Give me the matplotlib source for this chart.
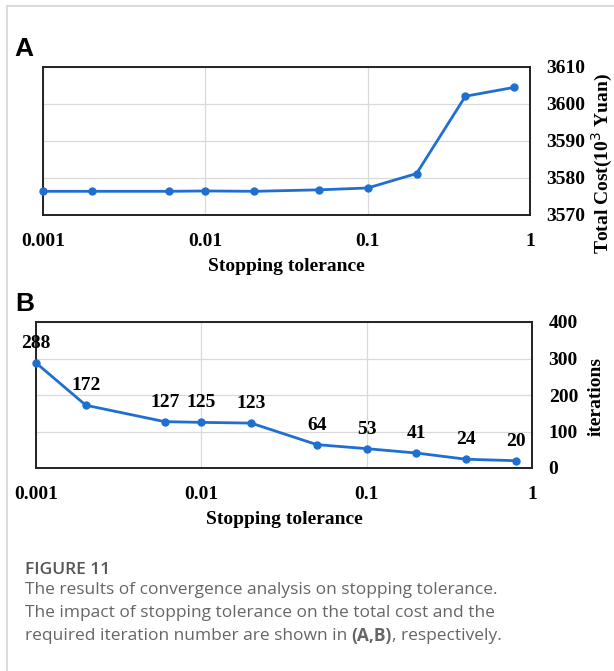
import numpy as np
import matplotlib.pyplot as plt
from matplotlib.lines import Line2D
from matplotlib.ticker import FixedLocator, FixedFormatter

# data
tol = [0.001, 0.002, 0.006, 0.01, 0.02, 0.05, 0.1, 0.2, 0.4, 0.8]
cost = [3576.4, 3576.4, 3576.4, 3576.5, 3576.4, 3576.8, 3577.3, 3581.2, 3602.1, 3604.5]
iters = [288, 172, 127, 125, 123, 64, 53, 41, 24, 20]

x_ticks = [0.001, 0.01, 0.1, 1]
x_labels = ["0.001", "0.01", "0.1", "1"]
cost_ticks = [3570, 3580, 3590, 3600, 3610]
iter_ticks = [0, 100, 200, 300, 400]

W, H = 614, 671
blue = "#1f6fd0"
serif = "Liberation Serif"

fig = plt.figure(figsize=(W / 100, H / 100), dpi=100)


def px_axes(left, top, right, bottom):
    return fig.add_axes([left / W, 1 - bottom / H, (right - left) / W, (bottom - top) / H])


def style(ax, yticks):
    ax.set_xscale("log")
    ax.set_xlim(0.001, 1)
    ax.xaxis.set_major_locator(FixedLocator(x_ticks))
    ax.xaxis.set_major_formatter(FixedFormatter(x_labels))
    ax.xaxis.set_minor_locator(FixedLocator([]))
    ax.set_ylim(yticks[0], yticks[-1])
    ax.set_yticks(yticks)
    ax.yaxis.tick_right()
    ax.yaxis.set_label_position("right")
    ax.grid(True, color="#d9d9d9", lw=0.9)
    ax.set_axisbelow(True)
    ax.tick_params(axis="x", length=0, pad=13)
    ax.tick_params(axis="y", length=0, pad=12)
    for lab in ax.get_xticklabels() + ax.get_yticklabels():
        lab.set_fontfamily(serif)
        lab.set_fontweight("bold")
        lab.set_fontsize(14)
    for sp in ax.spines.values():
        sp.set_linewidth(1.4)
        sp.set_color("#222222")
    ax.set_xlabel("Stopping tolerance", fontfamily=serif, fontweight="bold",
                  fontsize=14, labelpad=6)


# panel A
axA = px_axes(43, 67, 530, 215)
axA.plot(tol, cost, color=blue, lw=2, marker="o", ms=5, clip_on=False, zorder=3)
style(axA, cost_ticks)
axA.set_ylabel("Total Cost(10$^3$ Yuan)", fontfamily=serif, fontweight="bold",
               fontsize=14, ha="center", va="center")
axA.yaxis.set_label_coords(1.148, 0.35)

# panel B
axB = px_axes(36, 322, 532, 468)
axB.plot(tol, iters, color=blue, lw=2, marker="o", ms=5, clip_on=False, zorder=3)
style(axB, iter_ticks)
axB.set_ylabel("iterations", fontfamily=serif, fontweight="bold", fontsize=14,
               ha="center", va="center")
axB.yaxis.set_label_coords(1.129, 0.49)
for t, v in zip(tol, iters):
    axB.annotate(str(v), (t, v), xytext=(0, 14), textcoords="offset points",
                 ha="center", va="center", fontfamily=serif, fontweight="bold",
                 fontsize=14, annotation_clip=False)

# panel letters
fig.text(14 / W, 1 - 49 / H, "A", fontfamily="Liberation Sans", fontweight="bold",
         fontsize=19, va="center", ha="left")
fig.text(15 / W, 1 - 304 / H, "B", fontfamily="Liberation Sans", fontweight="bold",
         fontsize=19, va="center", ha="left")

# light frame on left and top
fig.add_artist(Line2D([7 / W, 7 / W], [0, 1 - 6 / H], color="#d4d4d4", lw=1.2))
fig.add_artist(Line2D([7 / W, 1], [1 - 6 / H, 1 - 6 / H], color="#d4d4d4", lw=1.2))

# caption
cap_color = "#666666"
cap_font = "Open Sans"
cap_size = 12.5
fig.text(25 / W, 1 - 570 / H, "FIGURE 11", fontfamily=cap_font, fontweight="semibold",
         fontsize=cap_size, color="#555555", va="center")
lines = ["The results of convergence analysis on stopping tolerance.",
         "The impact of stopping tolerance on the total cost and the"]
for i, s in enumerate(lines):
    fig.text(25 / W, 1 - (590 + 23 * i) / H, s, fontfamily=cap_font, fontsize=cap_size,
             color=cap_color, va="center")

y3 = 1 - 636 / H
t1 = fig.text(25 / W, y3, "required iteration number are shown in ", fontfamily=cap_font,
              fontsize=cap_size, color=cap_color, va="center")
fig.canvas.draw()
r = fig.canvas.get_renderer()
x2 = t1.get_window_extent(r).x1 / W / (fig.dpi / 100)
t2 = fig.text(x2, y3, "(A,B)", fontfamily=cap_font, fontweight="bold",
              fontsize=cap_size, color=cap_color, va="center")
x3 = t2.get_window_extent(r).x1 / W / (fig.dpi / 100)
fig.text(x3, y3, ", respectively.", fontfamily=cap_font, fontsize=cap_size,
         color=cap_color, va="center")

fig.savefig("out.png", dpi=100)
